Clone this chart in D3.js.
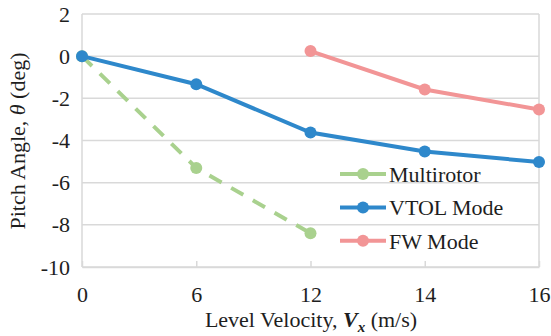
<!DOCTYPE html>
<html>
<head>
<meta charset="utf-8">
<script src="https://cdn.jsdelivr.net/npm/d3@7"></script>
<style>
  body { margin: 0; background: #fff; }
  text { font-family: "Liberation Serif", "Times New Roman", serif; fill: #1e1e1e; }
</style>
</head>
<body>
<div id="chart"></div>
<script>
"use strict";
// x categories (equally spaced in the original)
const speeds = ["0", "6", "12", "14", "16"];
const yTicks = [2, 0, -2, -4, -6, -8, -10];

const multirotor = [
    { x: "0", y: 0 },
    { x: "6", y: -5.3 },
    { x: "12", y: -8.4 }
];
const vtolMode = [
    { x: "0", y: 0 },
    { x: "6", y: -1.33 },
    { x: "12", y: -3.62 },
    { x: "14", y: -4.52 },
    { x: "16", y: -5.02 }
];
const fwMode = [
    { x: "12", y: 0.24 },
    { x: "14", y: -1.58 },
    { x: "16", y: -2.53 }
];

const series = [
    { name: "Multirotor", data: multirotor, color: "#a9d18e", dash: "14,11" },
    { name: "VTOL Mode", data: vtolMode, color: "#2e88cb", dash: null },
    { name: "FW Mode", data: fwMode, color: "#f29596", dash: null }
];

var width = 551, height = 336;
var margin = { top: 14, right: 12, bottom: 69, left: 82 };
var plotW = width - margin.left - margin.right;
var plotH = height - margin.top - margin.bottom;
const fontSize = "22px";

var svg = d3.select("#chart")
    .append("svg")
    .attr("width", width)
    .attr("height", height);

var g = svg.append("g")
    .attr("transform", `translate(${margin.left},${margin.top})`);

var xScale = d3.scalePoint().domain(speeds).range([0, plotW]);
var yScale = d3.scaleLinear().domain([-10, 2]).range([plotH, 0]);

const gridColor = "#d9d9d9";

// horizontal gridlines
g.append("g")
    .selectAll("line")
    .data(yTicks)
    .enter()
    .append("line")
    .attr("x1", 0)
    .attr("x2", plotW)
    .attr("y1", d => yScale(d))
    .attr("y2", d => yScale(d))
    .attr("stroke", gridColor)
    .attr("stroke-width", 1.5);

// frame (left and right edges)
g.append("line")
    .attr("x1", 0).attr("x2", 0)
    .attr("y1", 0).attr("y2", plotH)
    .attr("stroke", gridColor).attr("stroke-width", 1.5);
g.append("line")
    .attr("x1", plotW).attr("x2", plotW)
    .attr("y1", 0).attr("y2", plotH)
    .attr("stroke", gridColor).attr("stroke-width", 1.5);

// y axis labels (plain hyphen for negatives, like the original)
var yAxis = g.append("g")
    .call(d3.axisLeft(yScale).tickValues(yTicks).tickSize(0).tickPadding(12)
        .tickFormat(d => String(d)));
yAxis.select(".domain").remove();
yAxis.selectAll("text")
    .style("font-size", fontSize)
    .style("font-family", "Liberation Serif");

// x axis (ticks pointing inward)
var xAxis = g.append("g")
    .attr("transform", `translate(0,${plotH})`)
    .call(d3.axisBottom(xScale).tickSizeInner(-6).tickSizeOuter(0).tickPadding(19));
xAxis.select(".domain").attr("stroke", gridColor).attr("stroke-width", 1.5);
xAxis.selectAll(".tick line").attr("stroke", gridColor).attr("stroke-width", 1.5);
xAxis.selectAll("text")
    .style("font-size", fontSize)
    .style("font-family", "Liberation Serif")
    .attr("dy", "0.71em");

var line = d3.line()
    .x(d => xScale(d.x))
    .y(d => yScale(d.y));

series.forEach(function (s) {
    g.append("path")
        .datum(s.data)
        .attr("fill", "none")
        .attr("stroke", s.color)
        .attr("stroke-width", 4)
        .attr("stroke-dasharray", s.dash)
        .attr("d", line);
    g.selectAll(null)
        .data(s.data)
        .enter()
        .append("circle")
        .attr("cx", d => xScale(d.x))
        .attr("cy", d => yScale(d.y))
        .attr("r", 6)
        .attr("fill", s.color);
});

// legend
var legend = svg.append("g").attr("transform", "translate(340,174)");
series.forEach(function (s, i) {
    var row = legend.append("g").attr("transform", `translate(0,${i * 33.4})`);
    row.append("line")
        .attr("x1", 0).attr("x2", 46)
        .attr("stroke", s.color)
        .attr("stroke-width", 4);
    row.append("circle").attr("cx", 23).attr("r", 6).attr("fill", s.color);
    row.append("text")
        .attr("x", 49)
        .attr("dy", "0.35em")
        .style("font-size", fontSize)
        .text(s.name);
});

// axis titles
var xTitle = svg.append("text")
    .attr("x", 311)
    .attr("y", 327)
    .attr("text-anchor", "middle")
    .style("font-size", fontSize);
xTitle.append("tspan").text("Level Velocity, ");
xTitle.append("tspan").style("font-weight", "bold").style("font-style", "italic").text("V");
xTitle.append("tspan").style("font-weight", "bold").style("font-style", "italic")
    .style("font-size", "15px").attr("dy", 5).text("x");
xTitle.append("tspan").attr("dy", -5).text(" (m/s)");

var yTitle = svg.append("text")
    .attr("transform", "translate(25,141) rotate(-90)")
    .attr("text-anchor", "middle")
    .style("font-size", fontSize);
yTitle.append("tspan").text("Pitch Angle, ");
yTitle.append("tspan").style("font-style", "italic").text("θ");
yTitle.append("tspan").text(" (deg)");
</script>
</body>
</html>
